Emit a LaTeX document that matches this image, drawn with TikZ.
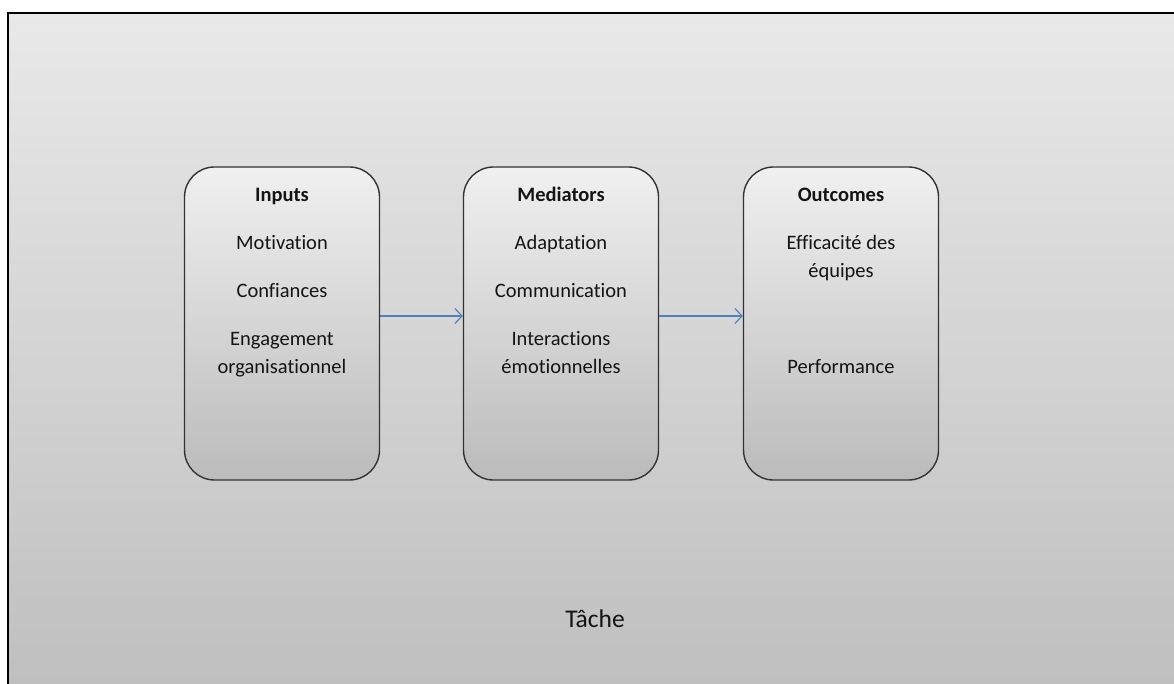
\documentclass[tikz,border=0pt]{standalone}
\usepackage{fontspec}
\setmainfont{Carlito}[Ligatures=NoCommon]
\usetikzlibrary{arrows.meta}
\definecolor{frametop}{HTML}{E9E9E9}
\definecolor{framebot}{HTML}{BEBEBE}
\definecolor{boxtop}{HTML}{F0F0F0}
\definecolor{boxbot}{HTML}{BBBBBB}
\definecolor{arrowblue}{HTML}{4F81BD}
\definecolor{txt}{HTML}{141414}
\begin{document}
\begin{tikzpicture}[x=1pt,y=-1pt,
  stagebox/.style={draw=black!80, line width=1.4pt, rounded corners=30pt,
    top color=boxtop, bottom color=boxbot, minimum width=195pt, minimum height=313pt,
    inner sep=0pt},
  lbl/.style={anchor=base, inner sep=0pt, text=txt, font=\fontsize{20.5}{28}\selectfont},
  hdr/.style={lbl, font=\fontsize{20.5}{28}\selectfont\bfseries},
  flow/.style={draw=arrowblue, line width=1.2pt, -{Straight Barb[length=7pt,width=15pt,line width=1.2pt]}}
]
\useasboundingbox (0,0) rectangle (1174,684);
\clip (0,0) rectangle (1174,684);
\fill[white] (0,0) rectangle (1174,684);
\draw[line width=1.5pt, top color=frametop, bottom color=framebot] (8,13) rectangle (1190,700);

\node[stagebox] (in)  at (282,323.5) {};
\node[stagebox] (med) at (561,323.5) {};
\node[stagebox] (out) at (841,323.5) {};

\node[hdr] (inh) at (282,202) {Inputs};
\node[lbl] (in1) at (282,250) {Motivation};
\node[lbl] (in2) at (282,298) {Confiances};
\node[lbl] (in3) at (282,345) {Engagement};
\node[lbl] (in4) at (282,373) {organisationnel};

\node[hdr] (medh) at (561,202) {Mediators};
\node[lbl] (med1) at (561,250) {Adaptation};
\node[lbl] (med2) at (561,298) {Communication};
\node[lbl] (med3) at (561,345) {Interactions};
\node[lbl] (med4) at (561,373) {émotionnelles};

\node[hdr] (outh) at (841,202) {Outcomes};
\node[lbl] (out1) at (841,250) {Efficacité des};
\node[lbl] (out2) at (841,278) {équipes};
\node[lbl] (out3) at (841,373) {Performance};

\node[lbl, font=\fontsize{25.5}{30}\selectfont] (task) at (595,627) {Tâche};

\draw[flow] ([yshift=7.5pt]in.east) -- ([yshift=7.5pt]med.west);
\draw[flow] ([yshift=7.5pt]med.east) -- ([yshift=7.5pt]out.west);
\end{tikzpicture}
\end{document}
